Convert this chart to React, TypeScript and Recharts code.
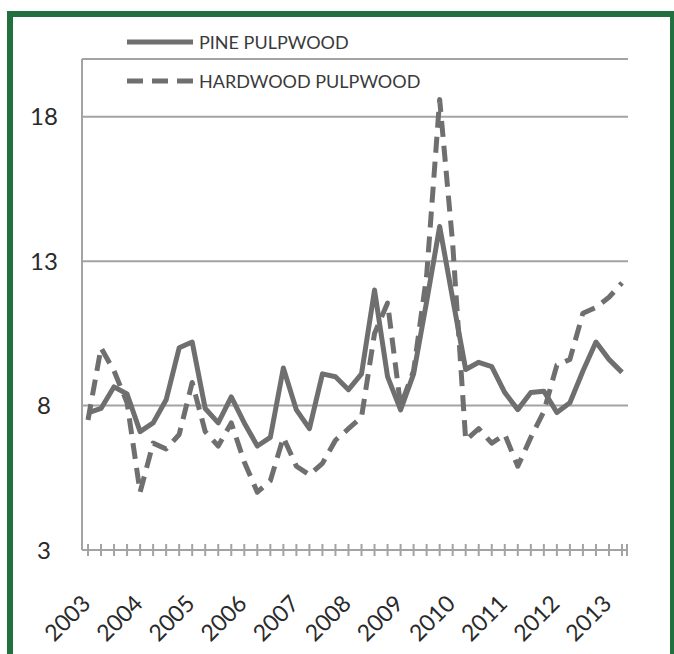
import { CartesianGrid, Legend, Line, LineChart, XAxis, YAxis } from 'recharts';

// quarterly series, 2003 Q1 .. 2013 Q2
const quarters = [
  '2003 Q1', '2003 Q2', '2003 Q3', '2003 Q4',
  '2004 Q1', '2004 Q2', '2004 Q3', '2004 Q4',
  '2005 Q1', '2005 Q2', '2005 Q3', '2005 Q4',
  '2006 Q1', '2006 Q2', '2006 Q3', '2006 Q4',
  '2007 Q1', '2007 Q2', '2007 Q3', '2007 Q4',
  '2008 Q1', '2008 Q2', '2008 Q3', '2008 Q4',
  '2009 Q1', '2009 Q2', '2009 Q3', '2009 Q4',
  '2010 Q1', '2010 Q2', '2010 Q3', '2010 Q4',
  '2011 Q1', '2011 Q2', '2011 Q3', '2011 Q4',
  '2012 Q1', '2012 Q2', '2012 Q3', '2012 Q4',
  '2013 Q1', '2013 Q2',
];
const yearLabels = ['2003', '2004', '2005', '2006', '2007', '2008', '2009', '2010', '2011', '2012', '2013'];

const pinePulpwood = [
  7.75, 7.9, 8.65, 8.4, 7.1, 7.4, 8.2, 10.0, 10.2, 7.9, 7.4, 8.3, 7.4, 6.6,
  6.9, 9.3, 7.85, 7.2, 9.1, 9.0, 8.55, 9.1, 12.0, 9.0, 7.85, 9.1, 11.6, 14.2,
  11.7, 9.25, 9.5, 9.35, 8.45, 7.86, 8.45, 8.5, 7.76, 8.1, 9.2, 10.2, 9.6, 9.15,
];
const hardwoodPulpwood = [
  7.5, 10.0, 9.2, 8.1, 5.0, 6.7, 6.5, 7.0, 8.8, 7.1, 6.6, 7.4, 6.05, 5.0,
  5.4, 6.9, 5.9, 5.6, 6.0, 6.8, 7.2, 7.6, 10.5, 11.55, 8.0, 9.2, 12.5, 18.6,
  13.6, 6.8, 7.2, 6.7, 7.0, 5.9, 6.9, 7.8, 9.4, 9.6, 11.2, 11.4, 11.75, 12.25,
];
const yTicks = [3, 8, 13, 18];

const FONT = 'Lato, "Open Sans", sans-serif';
const LINE = '#6f6f6f';
const AXIS = '#a3a3a3';
const GREEN = '#22703f';

const series = [
  { key: 'pine', name: 'PINE PULPWOOD', dash: undefined as string | undefined },
  { key: 'hardwood', name: 'HARDWOOD PULPWOOD', dash: '16 9' },
];

const data = quarters.map((quarter, i) => ({
  quarter,
  pine: pinePulpwood[i],
  hardwood: hardwoodPulpwood[i],
}));

function QuarterTick(props: any) {
  const { x, y, index, visibleTicksCount } = props;
  const label = index % 4 === 0 ? yearLabels[index / 4] : null;
  const lx = x + 4;
  const ly = y + 55;
  return (
    <g>
      <line x1={x} x2={x} y1={y - 6} y2={y + 6} stroke={AXIS} strokeWidth={2} />
      {index === visibleTicksCount - 1 ? (
        <line x1={x + 5} x2={x + 5} y1={y - 6} y2={y + 6} stroke={AXIS} strokeWidth={2} />
      ) : null}
      {label ? (
        <text
          x={lx}
          y={ly}
          transform={`rotate(-45, ${lx}, ${ly})`}
          textAnchor="end"
          fontFamily={FONT}
          fontSize={23}
          fill="#2a2a2a"
        >
          {label}
        </text>
      ) : null}
    </g>
  );
}

function ValueTick(props: any) {
  const { x, y, payload } = props;
  return (
    <text x={x - 38} y={y} dy="0.36em" textAnchor="middle" fontFamily={FONT} fontSize={24} fill="#2a2a2a">
      {payload.value}
    </text>
  );
}

function LegendContent() {
  return (
    <div style={{ fontFamily: FONT, fontSize: 18, color: '#3a3a3a' }}>
      {series.map((s) => (
        <div key={s.key} style={{ display: 'flex', alignItems: 'center', height: 39 }}>
          <svg width={66} height={10}>
            <line x1={0} x2={66} y1={5} y2={5} stroke={LINE} strokeWidth={5} strokeDasharray={s.dash} />
          </svg>
          <span style={{ marginLeft: 6, whiteSpace: 'nowrap' }}>{s.name}</span>
        </div>
      ))}
    </div>
  );
}

export default function App() {
  return (
    <div style={{ position: 'absolute', left: 0, top: 0, width: 674, height: 654, overflow: 'hidden', background: '#fff' }}>
      <div
        style={{
          position: 'absolute',
          left: 7,
          top: 11,
          width: 667,
          height: 660,
          boxSizing: 'border-box',
          borderLeft: `6px solid ${GREEN}`,
          borderTop: `6px solid ${GREEN}`,
          borderRight: `4px solid ${GREEN}`,
        }}
      />
      <div style={{ position: 'absolute', left: 0, top: 0 }}>
        <LineChart width={674} height={654} data={data} margin={{ top: 59, right: 46, bottom: 44, left: 0 }}>
          <CartesianGrid vertical={false} stroke={AXIS} strokeWidth={2} />
          <XAxis
            dataKey="quarter"
            scale="point"
            padding={{ left: 6, right: 6 }}
            interval={0}
            height={60}
            tickSize={0}
            tickMargin={0}
            tickLine={false}
            axisLine={{ stroke: AXIS, strokeWidth: 2 }}
            tick={QuarterTick}
          />
          <YAxis
            domain={[3, 20]}
            ticks={yTicks}
            width={82}
            tickSize={0}
            tickMargin={0}
            tickLine={false}
            axisLine={{ stroke: AXIS, strokeWidth: 2 }}
            tick={ValueTick}
          />
          <Legend
            layout="vertical"
            align="center"
            verticalAlign="middle"
            content={LegendContent}
            wrapperStyle={{ top: 22, left: 127, width: 320 }}
          />
          {series.map((s) => (
            <Line
              key={s.key}
              type="linear"
              dataKey={s.key}
              name={s.name}
              stroke={LINE}
              strokeWidth={5}
              strokeDasharray={s.dash}
              strokeLinejoin="round"
              dot={false}
              activeDot={false}
              isAnimationActive={false}
            />
          ))}
        </LineChart>
      </div>
    </div>
  );
}
